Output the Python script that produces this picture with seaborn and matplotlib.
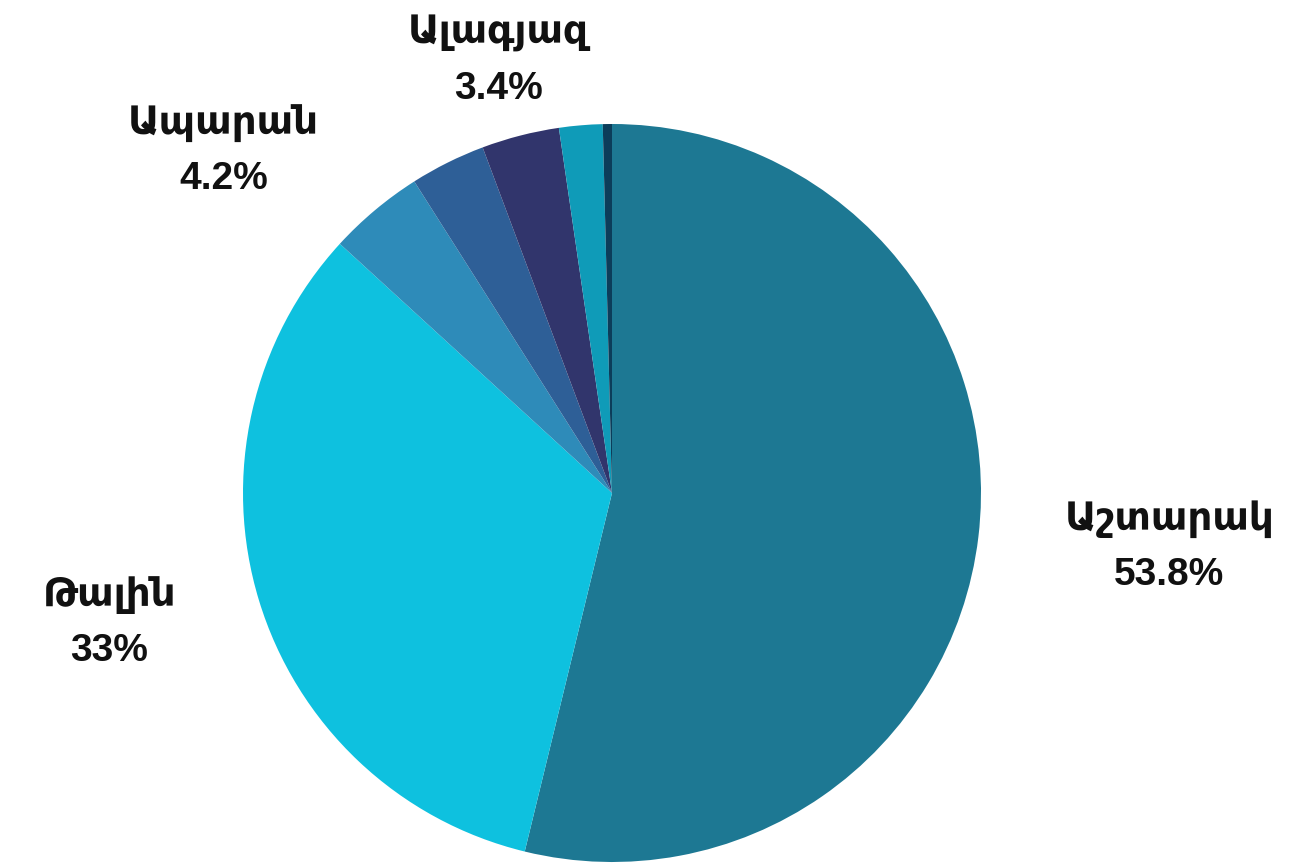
import numpy as np
import matplotlib
matplotlib.use("Agg")
import matplotlib.pyplot as plt
import seaborn as sns

# slice data, clockwise from 12 o'clock
regions = ["Աշտարակ", "Թալին", "Ապարան", "", "Ալագյազ", "", ""]
shares = [53.8, 33.0, 4.2, 3.3, 3.4, 1.9, 0.4]
shown = ["53.8%", "33%", "4.2%", "", "3.4%", "", ""]
colors = ["#1d7893", "#0ec1df", "#2e8bb9", "#2e5f97", "#31356c", "#0f9bb8", "#0c3d5a"]

sns.set_style("white")
plt.rcParams["font.family"] = ["Liberation Sans", "DejaVu Sans"]

fig = plt.figure(figsize=(13.07, 8.65), dpi=100)
ax = fig.add_axes([0, 0, 1, 1])

wedges, _ = ax.pie(shares, colors=sns.color_palette(colors), startangle=90,
                   counterclock=False, radius=1,
                   wedgeprops=dict(linewidth=0))

# label placement derived from wedge angles
for w, name, pct in zip(wedges, regions, shown):
    if not name:
        continue
    mid = np.deg2rad((w.theta1 + w.theta2) / 2)
    x, y = 1.235 * np.cos(mid), 1.21 * np.sin(mid)
    if abs(np.cos(mid)) < 0.35:
        ha = "center"
    else:
        ha = "left" if x > 0 else "right"
    ax.text(x, y, f"{name}\n{pct}", ha=ha, va="center", multialignment="center",
            fontsize=28, fontweight="bold", linespacing=1.68, color="#111111")

ax.set_xlim(-612 / 369, (1307 - 612) / 369)
ax.set_ylim(-(865 - 493) / 369, 493 / 369)
ax.set_aspect("auto")
ax.axis("off")

fig.savefig("out.png", dpi=100)
